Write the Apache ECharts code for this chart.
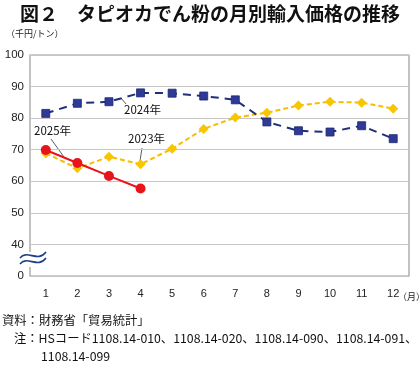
<!DOCTYPE html>
<html><head><meta charset="utf-8">
<script src="https://cdn.jsdelivr.net/npm/echarts@6/dist/echarts.min.js"></script>
<style>html,body{margin:0;padding:0;background:#fff}#c{width:420px;height:366px}</style>
</head><body><div id="c"></div>
<script>
const months = ['1','2','3','4','5','6','7','8','9','10','11','12'];
const yTicks = [30,40,50,60,70,80,90,100];
const y2023 = [68.9,64.1,67.8,65.4,70.3,76.6,80.2,81.7,84.0,85.2,84.9,83.0];
const y2024 = [81.5,84.7,85.2,88.0,87.9,87.0,85.8,78.8,76.0,75.6,77.6,73.5];
const y2025 = [69.9,65.8,61.7,57.7];

const F = '"Liberation Sans","Noto Sans CJK JP",sans-serif';
const J = '"Noto Sans CJK JP",sans-serif';
const chart = echarts.init(document.getElementById('c'));
chart.setOption({
  animation:false,
  grid:{left:30,right:11,top:55,bottom:90,show:true,borderColor:'#9a9a9a',borderWidth:1.2,containLabel:false},
  xAxis:{type:'category',data:months,boundaryGap:true,
    axisLine:{show:false},axisTick:{show:false},
    axisLabel:{fontFamily:F,fontSize:11,color:'#222',margin:12}},
  yAxis:{type:'value',min:30,max:100,interval:10,
    axisLine:{show:false},axisTick:{show:false},
    splitLine:{lineStyle:{color:'#c6c6c6',width:1.2}},
    axisLabel:{fontFamily:F,fontSize:11.5,color:'#222',margin:6,
      formatter:v=>v===30?'0':String(v)}},
  series:[
    {name:'2023年',type:'line',data:y2023,symbol:'diamond',symbolSize:10,
      lineStyle:{color:'#F5BE00',width:2,type:[5,3]},itemStyle:{color:'#F7C600'},z:2},
    {name:'2024年',type:'line',data:y2024,symbol:'rect',symbolSize:8,
      lineStyle:{color:'#1F2F7A',width:2,type:[8,6]},itemStyle:{color:'#2E3A96',borderColor:'#1E2770',borderWidth:0.8},z:3},
    {name:'2025年',type:'line',data:y2025,symbol:'circle',symbolSize:10,
      lineStyle:{color:'#E8141C',width:2},itemStyle:{color:'#E8141C'},z:4}
  ],
  graphic:[
    {type:'text',x:210,y:4,style:{text:'図２　タピオカでん粉の月別輸入価格の推移',font:'bold 19px '+J,fill:'#111',textAlign:'center'}},
    {type:'text',x:6,y:29,style:{text:'（千円/トン）',font:'9px '+J,fill:'#222'}},
    {type:'text',x:398,y:292,style:{text:'（月）',font:'9px '+J,fill:'#222'}},
    {type:'text',x:2,y:314,style:{text:'資料：財務省「貿易統計」',font:'12.3px '+J,fill:'#111'}},
    {type:'text',x:14,y:332,style:{text:'注：HSコード1108.14-010、1108.14-020、1108.14-090、1108.14-091、',font:'12.3px '+J,fill:'#111'}},
    {type:'text',x:41,y:350,style:{text:'1108.14-099',font:'12.3px '+J,fill:'#111'}},
    {type:'text',x:124,y:104,style:{text:'2024年',font:'11.5px '+J,fill:'#111'}},
    {type:'text',x:34,y:125,style:{text:'2025年',font:'11.5px '+J,fill:'#111'}},
    {type:'text',x:128,y:133,style:{text:'2023年',font:'11.5px '+J,fill:'#111'}},
    {type:'line',shape:{x1:121,y1:98,x2:126,y2:104},style:{stroke:'#333',lineWidth:0.8}},
    {type:'line',shape:{x1:51,y1:139,x2:64,y2:157},style:{stroke:'#333',lineWidth:0.8}},
    {type:'line',shape:{x1:142,y1:148,x2:140,y2:161},style:{stroke:'#333',lineWidth:0.8}},
    {type:'rect',shape:{x:28,y:252,width:5,height:15},style:{fill:'#fff'}},
    {type:'bezierCurve',shape:{x1:20,y1:258,cpx1:27,cpy1:249,cpx2:38,cpy2:263,x2:46,y2:252},style:{stroke:'#1F3E8C',lineWidth:1.6,fill:null}},
    {type:'bezierCurve',shape:{x1:20,y1:264,cpx1:27,cpy1:255,cpx2:38,cpy2:269,x2:46,y2:258},style:{stroke:'#1F3E8C',lineWidth:1.6,fill:null}}
  ]
});
</script></body></html>
